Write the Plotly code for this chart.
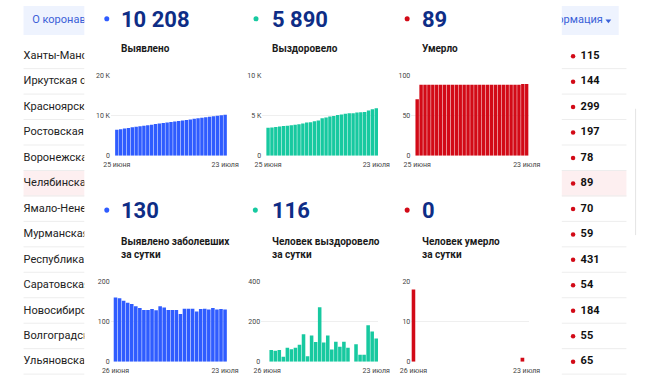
import plotly.graph_objects as go
import pandas as pd

W, H = 650, 384

# ---------------- data ----------------
days_cum = [d.strftime("%Y-%m-%d") for d in pd.date_range("2020-06-25", "2020-07-23")]
days_daily = days_cum[1:]

detected_total = [6440, 6600, 6758, 6910, 7057, 7201, 7339, 7473, 7602, 7731,
                  7862, 7990, 8128, 8263, 8392, 8521, 8650, 8769, 8901, 9033,
                  9165, 9290, 9421, 9553, 9683, 9817, 9947, 10078, 10208]
recovered_total = [3470, 3519, 3577, 3631, 3689, 3713, 3782, 3844, 3913, 3997,
                   4134, 4161, 4291, 4389, 4660, 4755, 4885, 4946, 5045, 5119,
                   5218, 5287, 5287, 5374, 5408, 5442, 5623, 5774, 5890]
deaths_total = [70, 88, 88, 88, 88, 88, 88, 88, 88, 88,
                88, 88, 88, 88, 88, 88, 88, 88, 88, 88,
                88, 88, 88, 88, 88, 88, 88, 89, 89]
detected_daily = [160, 158, 152, 147, 144, 138, 134, 129, 129, 131,
                  128, 138, 135, 129, 129, 129, 119, 132, 132, 132,
                  125, 131, 132, 130, 134, 130, 131, 130]
recovered_daily = [None, 58, 54, 58, 24, 69, 62, 69, 84, 137,
                   27, 130, 98, 271, 95, 130, 61, 99, 74, 99,
                   69, None, 87, 34, 34, 181, 151, 116]
deaths_daily = [18, 0, 0, 0, 0, 0, 0, 0, 0, 0,
                0, 0, 0, 0, 0, 0, 0, 0, 0, 0,
                0, 0, 0, 0, 0, 0, 1, 0]

headlines = ["10 208", "5 890", "89", "130", "116", "0"]
titles = ["Выявлено", "Выздоровело", "Умерло",
          "Выявлено заболевших<br>за сутки",
          "Человек выздоровело<br>за сутки",
          "Человек умерло<br>за сутки"]
first_labels = ["25 июня", "25 июня", "25 июня", "26 июня", "26 июня", "26 июня"]
last_label = "23 июля"
y_ticks = [[0, 10000, 20000], [0, 5000, 10000], [0, 50, 100],
           [0, 100, 200], [0, 200, 400], [0, 10, 20]]
y_ticktext = [["0", "10 K", "20 K"], ["0", "5 K", "10 K"], ["0", "50", "100"],
              ["0", "100", "200"], ["0", "200", "400"], ["0", "10", "20"]]

regions = ["Ханты-Мансийский автономный округ", "Иркутская область", "Красноярский край",
           "Ростовская область", "Воронежская область", "Челябинская область",
           "Ямало-Ненецкий автономный округ", "Мурманская область", "Республика Дагестан",
           "Саратовская область", "Новосибирская область", "Волгоградская область",
           "Ульяновская область"]
region_deaths = [115, 144, 299, 197, 78, 89, 70, 59, 431, 54, 184, 55, 65]

BLUE, GREEN, RED = "#2f5cff", "#17c9a0", "#d20a17"
NAVY = "#0e2d86"

# ---------------- helpers (window pixels -> paper) ----------------
def px(x):
    return x / W

def py(y):
    return 1 - y / H

fig = go.Figure()

charts = [
    dict(xs=(103.7, 224.0), ys=(155.0, 72.7), xr=[-1.5, 28.5], yr=[0, 20000], cats=days_cum, vals=detected_total, col=BLUE),
    dict(xs=(260.5, 380.7), ys=(155.0, 72.7), xr=[-1.5, 28.5], yr=[0, 10000], cats=days_cum, vals=recovered_total, col=GREEN),
    dict(xs=(415.0, 536.7), ys=(155.0, 72.7), xr=[-1.5, 28.5], yr=[0, 100], cats=days_cum, vals=deaths_total, col=RED),
    dict(xs=(103.3, 224.0), ys=(365.3, 283.3), xr=[-1.2, 27.5], yr=[0, 200], cats=days_daily, vals=detected_daily, col=BLUE),
    dict(xs=(259.3, 380.7), ys=(365.3, 283.3), xr=[-1.5, 27.5], yr=[0, 400], cats=days_daily, vals=recovered_daily, col=GREEN),
    dict(xs=(415.0, 536.7), ys=(365.3, 283.3), xr=[-0.5, 27.5], yr=[0, 20], cats=days_daily, vals=deaths_daily, col=RED),
]
head_pos = [(99.3, 15, 111.5), (254, 15, 268), (410.7, 15, 424),
            (99.3, 210.5, 111.5), (253.3, 210.5, 268), (410.7, 210.5, 424)]

layout_axes = {}
annotations = []
shapes = []
tick_font = dict(family="Roboto", size=7, color="#444")

for i, c in enumerate(charts):
    n = i + 1
    xa = "x" if n == 1 else f"x{n}"
    ya = "y" if n == 1 else f"y{n}"
    fig.add_trace(go.Bar(x=c["cats"], y=c["vals"], marker=dict(color=c["col"], line=dict(width=0)),
                         xaxis=xa, yaxis=ya, showlegend=False, hoverinfo="skip"))
    xkey = "xaxis" if n == 1 else f"xaxis{n}"
    ykey = "yaxis" if n == 1 else f"yaxis{n}"
    layout_axes[xkey] = dict(domain=[px(c["xs"][0]), px(c["xs"][1])], anchor=ya, type="category",
                             range=c["xr"], showgrid=False, zeroline=False, showline=False,
                             tickvals=[c["cats"][0], c["cats"][-1]],
                             ticktext=[first_labels[i], last_label], tickfont=tick_font,
                             ticklabelstandoff=3, fixedrange=True)
    layout_axes[ykey] = dict(domain=[py(c["ys"][0]), py(c["ys"][1])], anchor=xa, range=c["yr"],
                             tickvals=y_ticks[i], ticktext=y_ticktext[i], tickfont=tick_font,
                             showgrid=True, gridcolor="#efefef", gridwidth=1, zeroline=False,
                             showline=False, fixedrange=True)
    dx, dy, tx = head_pos[i]
    shapes.append(dict(type="circle", xref="paper", yref="paper",
                       x0=px(dx - 2.6), x1=px(dx + 2.6), y0=py(dy + 2.6), y1=py(dy - 2.6),
                       fillcolor=c["col"], line=dict(width=0)))
    annotations.append(dict(text=headlines[i], x=px(tx), y=py(dy + 0.5), xref="paper", yref="paper",
                            xanchor="left", yanchor="middle", showarrow=False,
                            font=dict(family="Roboto", size=22, color=NAVY, weight=700)))
    ty = 45 if i < 3 else 249
    annotations.append(dict(text=titles[i], x=px(tx), y=py(ty), xref="paper", yref="paper",
                            xanchor="left", yanchor="middle", align="left", showarrow=False,
                            font=dict(family="Roboto", size=10, color="#1a1a1a", weight=700)))

# ---------------- background page (clipped by side subplots) ----------------
row_y = [53.3 + 26 * k for k in range(13)]

fig.add_trace(go.Scatter(x=[13] * 13, y=row_y, text=regions, mode="text", textposition="middle right",
                         textfont=dict(family="Roboto", size=11, color="#222"), cliponaxis=True,
                         xaxis="x7", yaxis="y7", showlegend=False, hoverinfo="skip"))
fig.add_trace(go.Scatter(x=[22], y=[17], text=["О коронавирусе"], mode="text", textposition="middle right",
                         textfont=dict(family="Roboto", size=11, color="#3a60d8"), cliponaxis=True,
                         xaxis="x7", yaxis="y7", showlegend=False, hoverinfo="skip"))
fig.add_trace(go.Scatter(x=[582.7] * 13, y=row_y, mode="markers",
                         marker=dict(size=4.5, color=RED), cliponaxis=True,
                         xaxis="x8", yaxis="y8", showlegend=False, hoverinfo="skip"))
fig.add_trace(go.Scatter(x=[590.5] * 13, y=row_y, text=[str(v) for v in region_deaths], mode="text",
                         textposition="middle right",
                         textfont=dict(family="Roboto", size=11, color="#111", weight=700), cliponaxis=True,
                         xaxis="x8", yaxis="y8", showlegend=False, hoverinfo="skip"))
fig.add_trace(go.Scatter(x=[613.5], y=[17], text=["Информация"], mode="text", textposition="middle left",
                         textfont=dict(family="Roboto", size=11, color="#3a60d8"), cliponaxis=True,
                         xaxis="x8", yaxis="y8", showlegend=False, hoverinfo="skip"))
fig.add_trace(go.Scatter(x=[619.3], y=[17], mode="markers",
                         marker=dict(symbol="triangle-down", size=5, color="#3a60d8"), cliponaxis=True,
                         xaxis="x8", yaxis="y8", showlegend=False, hoverinfo="skip"))

layout_axes["xaxis7"] = dict(domain=[0, px(76)], range=[0, 76], visible=False, anchor="y7", fixedrange=True)
layout_axes["yaxis7"] = dict(domain=[0, 1], range=[H, 0], visible=False, anchor="x7", fixedrange=True)
layout_axes["xaxis8"] = dict(domain=[px(571), 1], range=[571, W], visible=False, anchor="y8", fixedrange=True)
layout_axes["yaxis8"] = dict(domain=[0, 1], range=[H, 0], visible=False, anchor="x8", fixedrange=True)

bg_shapes = []
bg_shapes.append(dict(type="rect", xref="paper", yref="paper", x0=px(13), x1=px(76), y0=py(31.7), y1=py(2),
                      fillcolor="#eef3fe", line=dict(width=0), layer="below"))
bg_shapes.append(dict(type="rect", xref="paper", yref="paper", x0=px(571), x1=px(630), y0=py(31.7), y1=py(2),
                      fillcolor="#eef3fe", line=dict(width=0), layer="below"))
for a, b in [(13, 76), (571, 638)]:
    bg_shapes.append(dict(type="rect", xref="paper", yref="paper", x0=px(a), x1=px(b), y0=py(196.5), y1=py(170),
                          fillcolor="#fdeff0", line=dict(width=0), layer="below"))
for k in range(13):
    yy = 66 + 26 * k
    for a, b in [(13, 76), (571, 638)]:
        bg_shapes.append(dict(type="line", xref="paper", yref="paper", x0=px(a), x1=px(b), y0=py(yy), y1=py(yy),
                              line=dict(color="#ededed", width=1), layer="below"))
bg_shapes.append(dict(type="line", xref="paper", yref="paper", x0=px(647.5), x1=px(647.5), y0=py(236), y1=py(107),
                      line=dict(color="#e4e4e4", width=1), layer="below"))

fig.update_layout(
    width=W, height=H, margin=dict(l=0, r=0, t=0, b=0),
    paper_bgcolor="white", plot_bgcolor="rgba(0,0,0,0)",
    bargap=0.12, showlegend=False,
    shapes=bg_shapes + shapes, annotations=annotations,
    font=dict(family="Roboto"),
    **layout_axes,
)

fig.write_html("out.html", config={"displayModeBar": False, "staticPlot": True},
               post_script="document.body.style.margin='0';")
